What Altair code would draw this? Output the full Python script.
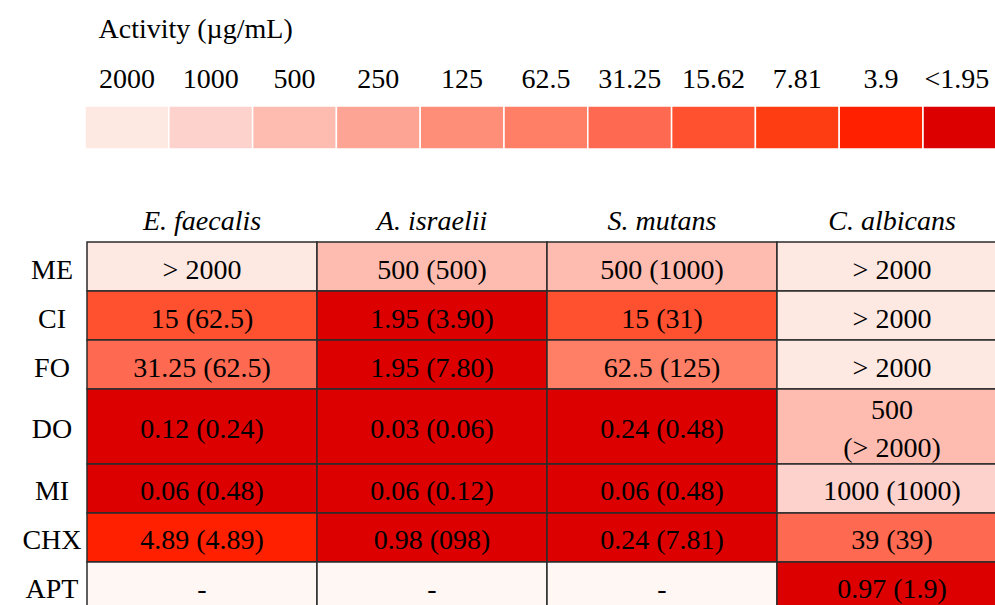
import math
import re

import altair as alt
import pandas as pd

# Activity scale shown in the colour key (µg/mL), strongest activity last
levels = ["2000", "1000", "500", "250", "125", "62.5", "31.25", "15.62", "7.81", "3.9", "<1.95"]
level_values = [2000, 1000, 500, 250, 125, 62.5, 31.25, 15.62, 7.81, 3.9, 1.95]
level_colors = ["#fee8e2", "#fed2cc", "#febcb0", "#fea494", "#fe8e78", "#fe7e66",
                "#fe6952", "#ff5030", "#ff3d12", "#ff2000", "#dd0000"]
no_data_color = "#fef7f4"

species = ["E. faecalis", "A. israelii", "S. mutans", "C. albicans"]
extracts = ["ME", "CI", "FO", "DO", "MI", "CHX", "APT"]

# MIC (MBC/MFC) per extract, one list per organism
mic_e_faecalis = ["> 2000", "15 (62.5)", "31.25 (62.5)", "0.12 (0.24)", "0.06 (0.48)", "4.89 (4.89)", "-"]
mic_a_israelii = ["500 (500)", "1.95 (3.90)", "1.95 (7.80)", "0.03 (0.06)", "0.06 (0.12)", "0.98 (098)", "-"]
mic_s_mutans = ["500 (1000)", "15 (31)", "62.5 (125)", "0.24 (0.48)", "0.06 (0.48)", "0.24 (7.81)", "-"]
mic_c_albicans = ["> 2000", "> 2000", "> 2000", "500\n(> 2000)", "1000 (1000)", "39 (39)", "0.97 (1.9)"]

# Layout: relative row heights (the DO row holds a two-line cell) and pixel sizes
row_span = [1, 1, 1, 1.53, 1, 1, 1]
ROW_PX = 49
LINE_PX = 38
COL_PX = 230
SWATCH_PX = 83.8
PAGE_W, PAGE_H = 995, 605
LEFT, TOP = 87, 106   # top-left corner of the colour key bar
FONT = "Liberation Serif"
FS = 28


def level_of(text):
    """Key level for a cell: the MIC value snapped to the nearest key step (log scale)."""
    if text.strip() == "-":
        return "none"
    v = float(re.search(r"[\d.]+", text).group())
    if v <= level_values[-1]:
        return levels[-1]
    if v >= level_values[0]:
        return levels[0]
    return min(zip(levels, level_values),
               key=lambda lv: abs(math.log(v) - math.log(lv[1])))[0]


tops, bottoms = [], []
acc = 0.0
for s in row_span:
    tops.append(acc)
    acc += s
    bottoms.append(acc)
total_span = acc

cell_records, line_records = [], []
for sp, col in zip(species, [mic_e_faecalis, mic_a_israelii, mic_s_mutans, mic_c_albicans]):
    for i, (ex, mic) in enumerate(zip(extracts, col)):
        mid = (tops[i] + bottoms[i]) / 2
        cell_records.append({"species": sp, "extract": ex, "mic": mic,
                             "level": level_of(mic), "top": tops[i], "bottom": bottoms[i]})
        lines = mic.split("\n")
        for k, line in enumerate(lines):
            offset = (k - (len(lines) - 1) / 2) * LINE_PX / ROW_PX
            line_records.append({"species": sp, "line": line, "y": mid + offset})
cells_df = pd.DataFrame(cell_records)
lines_df = pd.DataFrame(line_records)
rows_df = pd.DataFrame({"extract": extracts,
                        "mid": [(t + b) / 2 for t, b in zip(tops, bottoms)]})
legend_df = pd.DataFrame({"level": levels})

color_scale = alt.Scale(domain=levels + ["none"], range=level_colors + [no_data_color])

# Colour key (its last swatch runs past the page edge)
key_w = SWATCH_PX * len(levels)
key = alt.Chart(legend_df).mark_rect(stroke="white", strokeWidth=1.5).encode(
    x=alt.X("level:N", sort=levels,
            scale=alt.Scale(paddingInner=0, paddingOuter=0, range=[-2, key_w - 2]),
            axis=alt.Axis(orient="top", title="Activity (µg/mL)", labelAngle=0,
                          ticks=False, domain=False, labelFont=FONT, labelFontSize=FS,
                          labelColor="black", labelPadding=13,
                          labelOffset={"condition": {"test": "datum.label == '<1.95'",
                                                     "value": -8},
                                       "value": 0},
                          titleFont=FONT, titleFontSize=FS, titleFontWeight="normal",
                          titleColor="black", titleAnchor="start", titleAlign="left",
                          titleX=11, titleY=-77, titleBaseline="middle")),
    color=alt.Color("level:N", scale=color_scale, legend=None),
).properties(width=key_w, height=43)

# Heat-map table (its last column and last row run past the page edge)
y_scale = alt.Scale(domain=[0, total_span], reverse=True, nice=False, zero=False)
x_enc = alt.X("species:N", sort=species,
              scale=alt.Scale(paddingInner=0, paddingOuter=0),
              axis=alt.Axis(orient="top", title=None, labelAngle=0, ticks=False,
                            domain=False, labelFont=FONT, labelFontSize=FS,
                            labelFontStyle="italic", labelColor="black", labelPadding=7))

cells = alt.Chart(cells_df).mark_rect(stroke="#2b2b2b", strokeWidth=1.5).encode(
    x=x_enc,
    y=alt.Y("top:Q", scale=y_scale, axis=None),
    y2="bottom:Q",
    color=alt.Color("level:N", scale=color_scale, legend=None),
)
cell_text = alt.Chart(lines_df).mark_text(
    font=FONT, fontSize=FS, color="black", baseline="middle", dy=4,
).encode(
    x=alt.X("species:N", sort=species),
    y=alt.Y("y:Q", scale=y_scale),
    text="line:N",
)
row_labels = alt.Chart(rows_df).mark_text(
    font=FONT, fontSize=FS, color="black", baseline="middle", align="center", dy=4,
).encode(
    x=alt.value(-35),
    y=alt.Y("mid:Q", scale=y_scale),
    text="extract:N",
)

table = alt.layer(cells, cell_text, row_labels).properties(
    width=COL_PX * len(species), height=ROW_PX * total_span)

# Fixed page-sized canvas: whatever runs past the right and bottom edges is cut off
chart = alt.vconcat(key, table, spacing=93, bounds="flush").properties(
    autosize=alt.AutoSizeParams(type="none"),
    padding={"left": LEFT, "top": TOP, "right": PAGE_W - LEFT, "bottom": PAGE_H - TOP},
).configure_view(stroke=None)

chart.save("out.html", embed_options={"renderer": "svg", "actions": False})
